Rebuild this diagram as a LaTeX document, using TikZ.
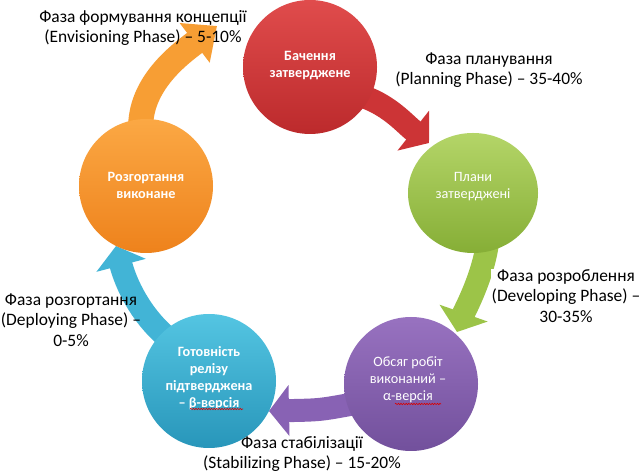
\documentclass[tikz,border=0pt]{standalone}
\usepackage{fontspec}
\setmainfont{Carlito}
\usetikzlibrary{arrows.meta,calc,decorations.pathmorphing,shapes.geometric}
\pgfdeclarelayer{bg}
\pgfsetlayers{bg,main}
\definecolor{redT}{RGB}{224,76,76}
\definecolor{redB}{RGB}{188,42,44}
\definecolor{redA}{RGB}{204,52,54}
\definecolor{grnT}{RGB}{180,213,104}
\definecolor{grnB}{RGB}{134,174,54}
\definecolor{grnA}{RGB}{156,196,72}
\definecolor{purT}{RGB}{152,114,192}
\definecolor{purB}{RGB}{114,80,156}
\definecolor{purA}{RGB}{136,98,180}
\definecolor{bluT}{RGB}{84,197,226}
\definecolor{bluB}{RGB}{40,150,186}
\definecolor{bluA}{RGB}{66,180,214}
\definecolor{ornT}{RGB}{251,168,68}
\definecolor{ornB}{RGB}{238,130,28}
\definecolor{ornA}{RGB}{247,158,52}
\begin{document}
\begin{tikzpicture}[x=1bp,y=1bp,
  ball/.style={circle, minimum size=134bp, inner sep=0pt, draw=none},
  intext/.style={text=white, align=center, font=\fontsize{14.3}{17}\selectfont, inner sep=0pt},
  intextb/.style={text=white, align=center, font=\fontsize{14.3}{17}\selectfont\bfseries, inner sep=0pt},
  outlabel/.style={text=black, align=center, font=\fontsize{17.5}{20.5}\selectfont, inner sep=1pt},
  blockarrow/.style={line width=23bp, -{Triangle[width=50bp,length=20bp]}},
  squiggle/.style={draw=red!85!black, line width=0.6bp, decorate, decoration={snake, amplitude=0.7bp, segment length=2.6bp}}
]
\useasboundingbox (0,0) rectangle (642,474);
\begin{pgfonlayer}{bg}
\fill[white] (0,0) rectangle (642,474);
\end{pgfonlayer}

% circles
\node[ball, top color=redT, bottom color=redB] (R) at (310,407) {};
\node[ellipse, minimum width=130bp, minimum height=120bp, inner sep=0pt, top color=grnT, bottom color=grnB] (G) at (473,281) {};
\node[ball, top color=purT, bottom color=purB] (P) at (411,90) {};
\node[ball, top color=bluT, bottom color=bluB] (B) at (209,93) {};
\node[ball, top color=ornT, bottom color=ornB] (O) at (146,288) {};

% circle texts
\node[intextb] (Rt) at (310,408) {Бачення\\затверджене};
\node[intext] (Gt) at (473,287) {Плани\\затверджені};
\node[intext] (Pt) at (408,94) {Обсяг робіт\\виконаний –\\α-версія};
\node[intextb] (Bt) at (209,96) {Готовність\\релізу\\підтверджена\\– β-версія};
\node[intextb] (Ot) at (146,289) {Розгортання\\виконане};

% spelling squiggles
\draw[squiggle] (190,65) -- (243,65);
\draw[squiggle] (395,70) -- (441,70);

% arrow tips (free ends)
\coordinate (OT) at (217,448);
\coordinate (RT) at (429,331);
\coordinate (GT) at (457,142);
\coordinate (PT) at (269,63);
\coordinate (BT) at (116,228);

\begin{pgfonlayer}{bg}
\draw[blockarrow, draw=ornA, line width=25bp, -{Triangle[width=48bp,length=28bp]}]
  ($(O.95)!6bp!(O.center)$) .. controls (142,392) and (180,420) .. (OT);
\draw[blockarrow, draw=redA]
  ($(R.-29)!6bp!(R.center)$) .. controls (390,368) and (405,350) .. (RT);
\draw[blockarrow, draw=grnA]
  ($(G.-75)!6bp!(G.center)$) .. controls (482,195) and (464,162) .. (GT);
\draw[blockarrow, draw=purA]
  ($(P.199)!6bp!(P.center)$) .. controls (320,64) .. (PT);
\draw[blockarrow, draw=bluA]
  ($(B.134)!6bp!(B.center)$) .. controls (140,160) and (126,190) .. (BT);
\end{pgfonlayer}

% phase labels
\node[outlabel] (L1) at (143,446) {Фаза формування концепції\\(Envisioning Phase) – 5-10\%};
\node[outlabel] (L2) at (489,404) {Фаза планування\\(Planning Phase) – 35-40\%};
\node[outlabel, fill=white] (L3) at (566,178) {Фаза розроблення\\(Developing Phase) –\\30-35\%};
\node[outlabel] (L4) at (71,154) {Фаза розгортання\\(Deploying Phase) –\\0-5\%};
\node[outlabel] (L5) at (302,20) {Фаза стабілізації\\(Stabilizing Phase) – 15-20\%};
\end{tikzpicture}
\end{document}
